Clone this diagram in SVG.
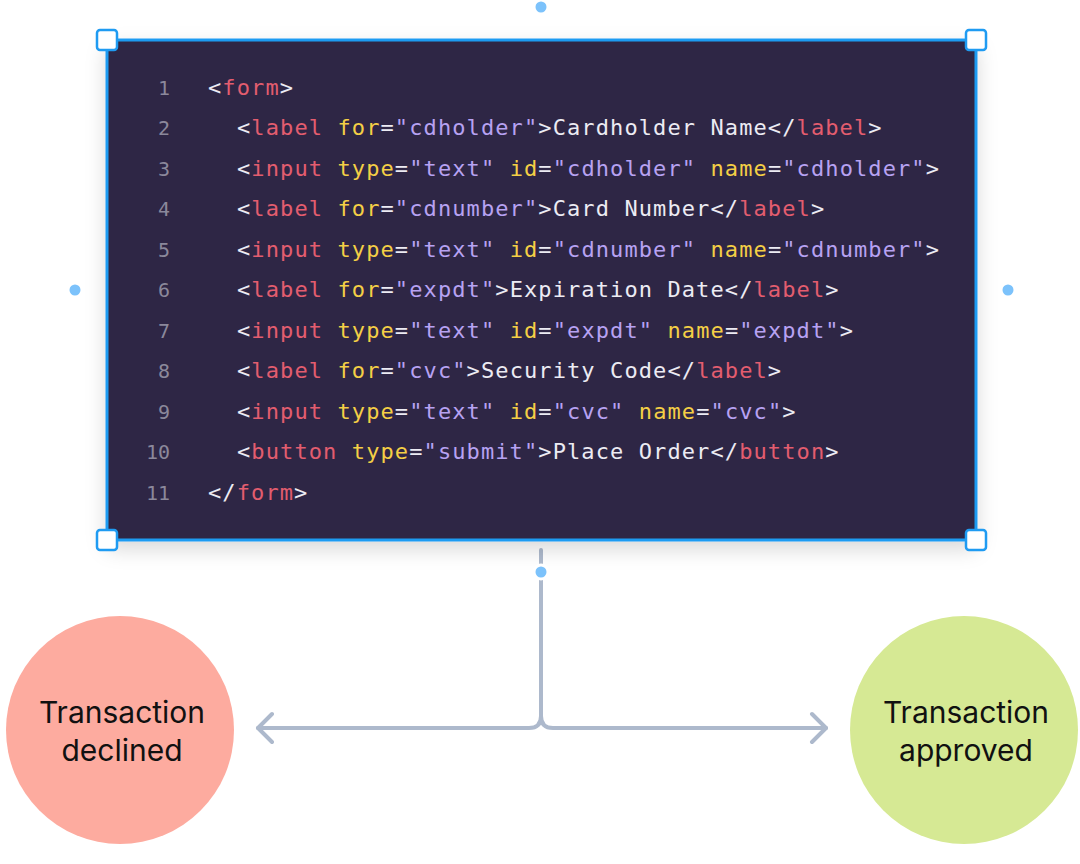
<svg xmlns="http://www.w3.org/2000/svg" width="1080" height="864" viewBox="0 0 1080 864">
<style>
.code{font-family:"DejaVu Sans Mono",monospace;font-size:22px;letter-spacing:1.1px;fill:#ecebf3}
.ln{font-family:"DejaVu Sans Mono",monospace;font-size:20px;fill:#8b889b;text-anchor:end}
.t{fill:#e35d6f}.a{fill:#f4cf45}.s{fill:#b7a2f2}
.h{fill:#fff;stroke:#1f9bf2;stroke-width:2.5}
.d{fill:#7cc2fb;stroke:#fff;stroke-width:3}
.lbl{font-family:Inter,"Liberation Sans",sans-serif;font-size:30px;fill:#111;text-anchor:middle}
.con{fill:none;stroke:#adb9cc;stroke-width:4;stroke-linecap:round;stroke-linejoin:round}
</style>
<defs><filter id="sh" x="-10%" y="-10%" width="120%" height="130%"><feDropShadow dx="0" dy="8" stdDeviation="10" flood-opacity="0.15"/></filter></defs>
<rect width="1080" height="864" fill="#fff"/>
<g id="connectors">
<path class="con" d="M541 550V716Q541 728 529 728H258M541 716Q541 728 553 728H826"/>
<path class="con" d="M272 714L258 728L272 742M812 714L826 728L812 742"/>
</g>
<g id="code">
<rect x="107" y="40" width="869" height="500" rx="6" fill="#2e2844" stroke="#1f9bf2" stroke-width="3" filter="url(#sh)"/>
<g class="ln">
<text x="170" y="95">1</text><text x="170" y="135">2</text><text x="170" y="176">3</text><text x="170" y="216">4</text><text x="170" y="257">5</text><text x="170" y="297">6</text><text x="170" y="338">7</text><text x="170" y="378">8</text><text x="170" y="419">9</text><text x="170" y="459">10</text><text x="170" y="500">11</text>
</g>
<text class="code" x="208" y="95">&lt;<tspan class="t">form</tspan>&gt;</text>
<text class="code" x="237" y="135">&lt;<tspan class="t">label</tspan> <tspan class="a">for</tspan>=<tspan class="s">"cdholder"</tspan>&gt;Cardholder Name&lt;/<tspan class="t">label</tspan>&gt;</text>
<text class="code" x="237" y="176">&lt;<tspan class="t">input</tspan> <tspan class="a">type</tspan>=<tspan class="s">"text"</tspan> <tspan class="a">id</tspan>=<tspan class="s">"cdholder"</tspan> <tspan class="a">name</tspan>=<tspan class="s">"cdholder"</tspan>&gt;</text>
<text class="code" x="237" y="216">&lt;<tspan class="t">label</tspan> <tspan class="a">for</tspan>=<tspan class="s">"cdnumber"</tspan>&gt;Card Number&lt;/<tspan class="t">label</tspan>&gt;</text>
<text class="code" x="237" y="257">&lt;<tspan class="t">input</tspan> <tspan class="a">type</tspan>=<tspan class="s">"text"</tspan> <tspan class="a">id</tspan>=<tspan class="s">"cdnumber"</tspan> <tspan class="a">name</tspan>=<tspan class="s">"cdnumber"</tspan>&gt;</text>
<text class="code" x="237" y="297">&lt;<tspan class="t">label</tspan> <tspan class="a">for</tspan>=<tspan class="s">"expdt"</tspan>&gt;Expiration Date&lt;/<tspan class="t">label</tspan>&gt;</text>
<text class="code" x="237" y="338">&lt;<tspan class="t">input</tspan> <tspan class="a">type</tspan>=<tspan class="s">"text"</tspan> <tspan class="a">id</tspan>=<tspan class="s">"expdt"</tspan> <tspan class="a">name</tspan>=<tspan class="s">"expdt"</tspan>&gt;</text>
<text class="code" x="237" y="378">&lt;<tspan class="t">label</tspan> <tspan class="a">for</tspan>=<tspan class="s">"cvc"</tspan>&gt;Security Code&lt;/<tspan class="t">label</tspan>&gt;</text>
<text class="code" x="237" y="419">&lt;<tspan class="t">input</tspan> <tspan class="a">type</tspan>=<tspan class="s">"text"</tspan> <tspan class="a">id</tspan>=<tspan class="s">"cvc"</tspan> <tspan class="a">name</tspan>=<tspan class="s">"cvc"</tspan>&gt;</text>
<text class="code" x="237" y="459">&lt;<tspan class="t">button</tspan> <tspan class="a">type</tspan>=<tspan class="s">"submit"</tspan>&gt;Place Order&lt;/<tspan class="t">button</tspan>&gt;</text>
<text class="code" x="208" y="500">&lt;/<tspan class="t">form</tspan>&gt;</text>
<rect class="h" x="97" y="30" width="20" height="20" rx="3"/><rect class="h" x="966" y="30" width="20" height="20" rx="3"/>
<rect class="h" x="97" y="530" width="20" height="20" rx="3"/><rect class="h" x="966" y="530" width="20" height="20" rx="3"/>
<circle class="d" cx="541" cy="7" r="7"/><circle class="d" cx="75" cy="290" r="7"/><circle class="d" cx="1008" cy="290" r="7"/><circle class="d" cx="541" cy="572" r="7"/>
</g>
<g id="declined"><circle cx="120" cy="730" r="114" fill="#fdab9f"/><text class="lbl" x="122" y="723">Transaction</text><text class="lbl" x="122" y="761">declined</text></g>
<g id="approved"><circle cx="964" cy="730" r="114" fill="#d6e994"/><text class="lbl" x="966" y="723">Transaction</text><text class="lbl" x="966" y="761">approved</text></g>
</svg>
